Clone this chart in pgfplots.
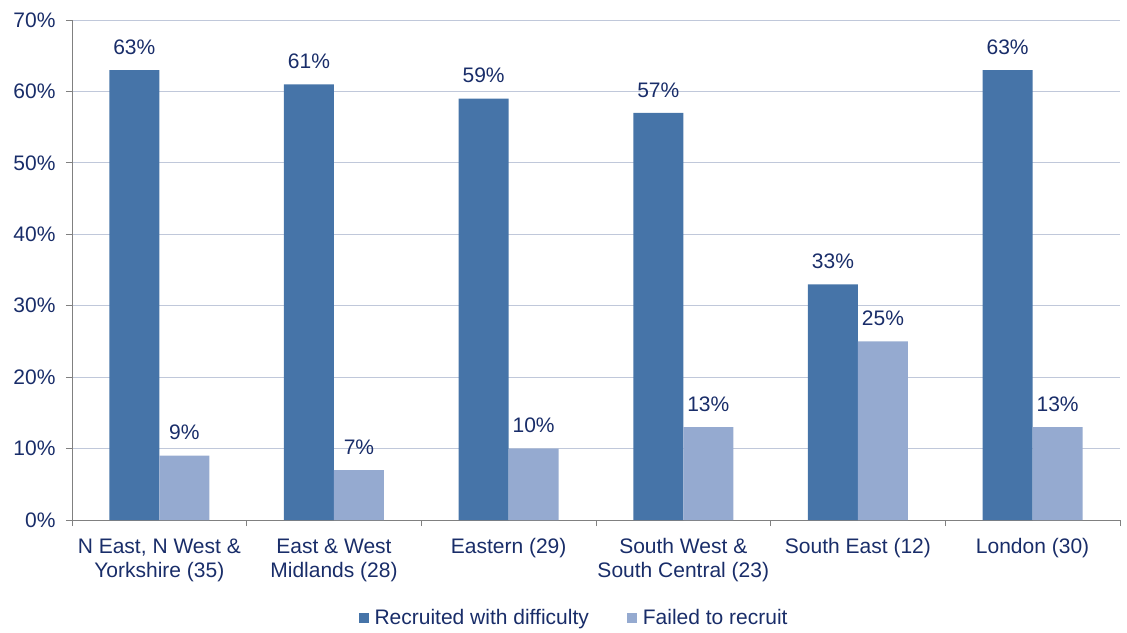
\documentclass[border=0pt]{standalone}
\usepackage{pgfplots}
\pgfplotsset{compat=1.18}
\usepackage{fontspec}
\setmainfont{Liberation Sans}
\definecolor{darkbar}{RGB}{70,116,168}
\definecolor{lightbar}{RGB}{149,170,208}
\definecolor{txt}{RGB}{25,45,105}
\definecolor{gridc}{RGB}{192,200,218}
\definecolor{axc}{RGB}{128,128,128}
\begin{document}
\begin{tikzpicture}
\path[use as bounding box] (-72pt,-112pt) rectangle (1055pt,520pt);
\begin{axis}[
  at={(0,0)}, anchor=south west,
  scale only axis, width=1048pt, height=500pt,
  font=\fontsize{21}{24}\selectfont,
  ybar=0pt, bar width=50pt,
  ymin=0, ymax=70, ytick={0,10,...,70},
  xmin=-0.5, xmax=5.5,
  xtick={0,...,5},
  xticklabels={{N East, N West \&\\Yorkshire (35)},{East \& West\\Midlands (28)},{Eastern (29)},{South West \&\\South Central (23)},{South East (12)},{London (30)}},
  xticklabel style={align=center, text=txt, yshift=-9pt},
  minor xtick={-0.5,0.5,...,5.5},
  xtick style={draw=none},
  minor x tick style={draw=axc, thick},
  y tick style={draw=axc, thick},
  major tick length=6pt, minor tick length=6pt,
  tick align=outside,
  axis x line*=bottom, axis y line*=left,
  axis line style={draw=axc, thick, -},
  ymajorgrids, grid style={draw=gridc, thick},
  yticklabel={\pgfmathprintnumber{\tick}\%},
  /pgf/number format/assume math mode=true,
  yticklabel style={text=txt, xshift=-7pt},
  nodes near coords={\pgfmathprintnumber{\pgfplotspointmeta}\%},
  nodes near coords style={text=txt, font=\fontsize{21}{24}\selectfont, yshift=12pt},
  legend style={at={(0.481,-0.196)}, anchor=center, draw=none, legend columns=-1,
    /tikz/every even column/.append style={column sep=32pt}, text=txt, font=\fontsize{21}{24}\selectfont,
    nodes={inner xsep=6pt}},
  legend image code/.code={\fill[#1] (0pt,-5pt) rectangle (10pt,5pt);},
]
\addplot[fill=darkbar, draw=none] coordinates {(0,63) (1,61) (2,59) (3,57) (4,33) (5,63)};
\addplot[fill=lightbar, draw=none] coordinates {(0,9) (1,7) (2,10) (3,13) (4,25) (5,13)};
\legend{Recruited with difficulty, Failed to recruit}
\end{axis}
\end{tikzpicture}
\end{document}
